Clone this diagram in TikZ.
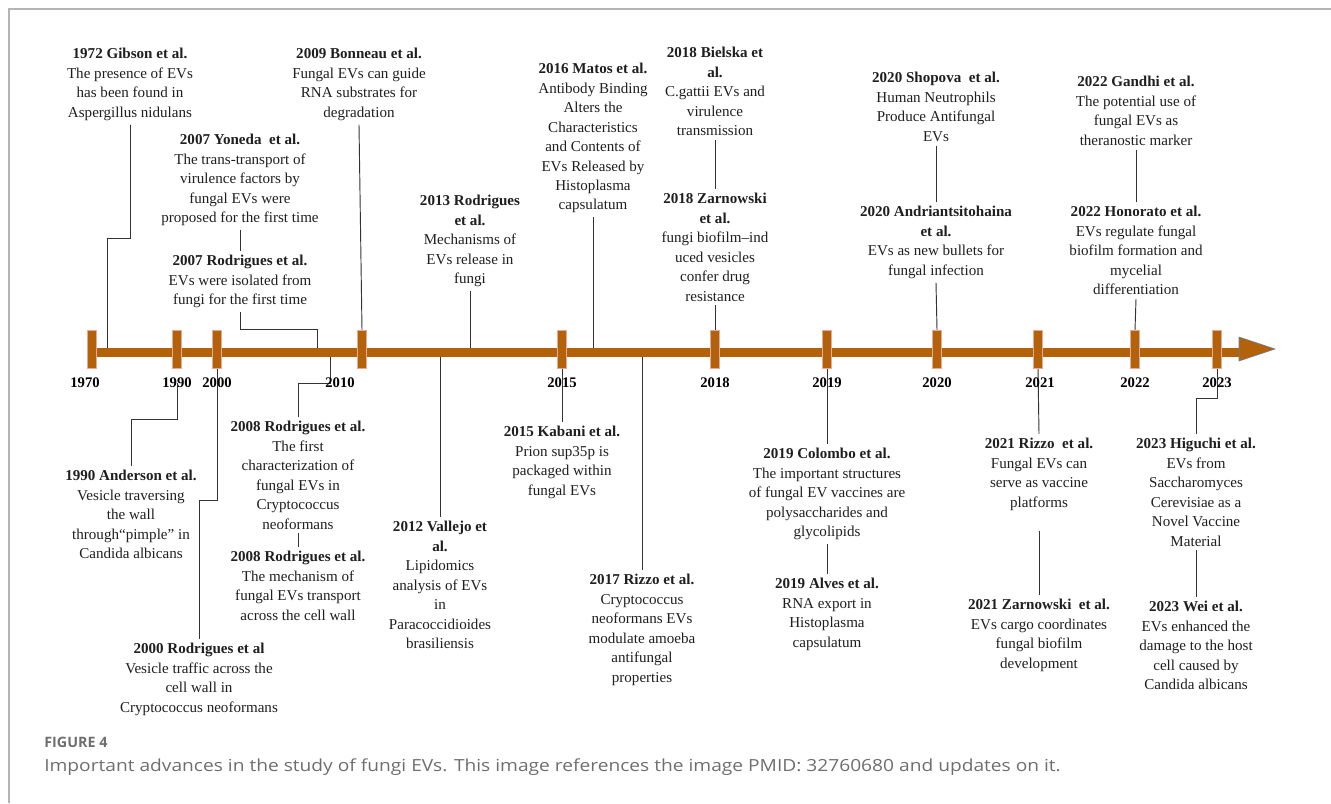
\documentclass[tikz,border=0pt]{standalone}
\usepackage{fontspec}
\setmainfont{Liberation Serif}
\newfontfamily\capfont{Open Sans}
\usetikzlibrary{backgrounds}
\definecolor{BarBrown}{HTML}{B4620A}
\definecolor{BarEdge}{HTML}{E6A99C}
\definecolor{TipEdge}{HTML}{5F7FA8}
\definecolor{LineGray}{HTML}{333333}
\definecolor{FrameGray}{HTML}{B4B4B4}
\definecolor{CapGray}{HTML}{6E6E6E}
\tikzset{
  evtext/.style={anchor=north, align=center, inner sep=3pt, font=\fontsize{11.3}{14.6}\selectfont, text=black!88},
  conn/.style={draw=LineGray, line width=0.7pt},
  tickmark/.style={rectangle, fill=BarBrown, draw=BarEdge, line width=0.3pt, minimum width=6.5pt, minimum height=28.5pt, inner sep=0pt},
  yearlabel/.style={font=\fontsize{11}{13}\selectfont\bfseries, inner sep=1pt},
}

\begin{document}
\begin{tikzpicture}[x=0.75pt, y=-0.75pt]
    \useasboundingbox (0,0) rectangle (1331,803);

    % timeline
    \fill[BarBrown] (88,347.5) rectangle (1241,357);
    \filldraw[fill=BarBrown, draw=TipEdge, line width=0.4pt] (1239,337) -- (1275,349) -- (1239,361) -- cycle;
    \node[tickmark] (t1970) at (92,349) {};
    \node[tickmark] (t1990) at (177,349) {};
    \node[tickmark] (t2000) at (217,349) {};
    \node[tickmark] (t2009) at (362,349) {};
    \node[tickmark] (t2015) at (562,349) {};
    \node[tickmark] (t2018) at (715,349) {};
    \node[tickmark] (t2019) at (827,349) {};
    \node[tickmark] (t2020) at (937,349) {};
    \node[tickmark] (t2021) at (1038,349) {};
    \node[tickmark] (t2022) at (1135,349) {};
    \node[tickmark] (t2023) at (1217,349) {};

    \node[yearlabel] (y1970) at (85,383) {1970};
    \node[yearlabel] (y1990) at (177,383) {1990};
    \node[yearlabel] (y2000) at (217,383) {2000};
    \node[yearlabel] (y2010) at (340,383) {2010};
    \node[yearlabel] (y2015) at (562,383) {2015};
    \node[yearlabel] (y2018) at (715,383) {2018};
    \node[yearlabel] (y2019) at (827,383) {2019};
    \node[yearlabel] (y2020) at (937,383) {2020};
    \node[yearlabel] (y2021) at (1040,383) {2021};
    \node[yearlabel] (y2022) at (1135,383) {2022};
    \node[yearlabel] (y2023) at (1217,383) {2023};

    \coordinate (b1972) at (107,352);
    \coordinate (b2007) at (317,352);
    \coordinate (b2008) at (330,352);
    \coordinate (b2012) at (440,352);
    \coordinate (b2013) at (470,352);
    \coordinate (b2016) at (593,352);
    \coordinate (b2017) at (642,352);

    % above the timeline
    \node[evtext] (gibson) at (130,44) {\textbf{1972 Gibson et al.}\\The presence of EVs\\has been found in\\Aspergillus nidulans};
    \node[evtext] (yoneda) at (240,130) {\textbf{2007 Yoneda\ \ et al.}\\The trans-transport of\\virulence factors by\\fungal EVs were\\proposed for the first time};
    \node[evtext] (rod07) at (240,251) {\textbf{2007 Rodrigues et al.}\\EVs were isolated from\\fungi for the first time};
    \node[evtext] (bonneau) at (359,44) {\textbf{2009 Bonneau et al.}\\Fungal EVs can guide\\RNA substrates for\\degradation};
    \node[evtext] (rod13) at (470,191) {\textbf{2013 Rodrigues}\\\textbf{et al.}\\Mechanisms of\\EVs release in\\fungi};
    \node[evtext] (matos) at (593,59) {\textbf{2016 Matos et al.}\\Antibody Binding\\Alters the\\Characteristics\\and Contents of\\EVs Released by\\Histoplasma\\capsulatum};
    \node[evtext] (bielska) at (715,43) {\textbf{2018 Bielska et}\\\textbf{al.}\\C.gattii EVs and\\virulence\\transmission};
    \node[evtext] (zarn18) at (715,189) {\textbf{2018 Zarnowski}\\\textbf{et al.}\\fungi biofilm–ind\\uced vesicles\\confer drug\\resistance};
    \node[evtext] (shopova) at (936,68) {\textbf{2020 Shopova\ \ et al.}\\Human Neutrophils\\Produce Antifungal\\EVs};
    \node[evtext] (andri) at (936,202) {\textbf{2020 Andriantsitohaina}\\\textbf{et al.}\\EVs as new bullets for\\fungal infection};
    \node[evtext] (gandhi) at (1136,72) {\textbf{2022 Gandhi et al.}\\The potential use of\\fungal EVs as\\theranostic marker};
    \node[evtext] (honorato) at (1136,202) {\textbf{2022 Honorato et al.}\\EVs regulate fungal\\biofilm formation and\\mycelial\\differentiation};

    % below the timeline
    \node[evtext] (anderson) at (131,466) {\textbf{1990 Anderson et al.}\\Vesicle traversing\\the wall\\through“pimple” in\\Candida albicans};
    \node[evtext] (rod00) at (199,639) {\textbf{2000 Rodrigues et al}\\Vesicle traffic across the\\cell wall in\\Cryptococcus neoformans};
    \node[evtext] (rod08a) at (298,417) {\textbf{2008 Rodrigues et al.}\\The first\\characterization of\\fungal EVs in\\Cryptococcus\\neoformans};
    \node[evtext] (rod08b) at (298,547) {\textbf{2008 Rodrigues et al.}\\The mechanism of\\fungal EVs transport\\across the cell wall};
    \node[evtext] (vallejo) at (440,517) {\textbf{2012 Vallejo et}\\\textbf{al.}\\Lipidomics\\analysis of EVs\\in\\Paracoccidioides\\brasiliensis};
    \node[evtext] (kabani) at (562,422) {\textbf{2015 Kabani et al.}\\Prion sup35p is\\packaged within\\fungal EVs};
    \node[evtext] (rizzo17) at (642,570) {\textbf{2017 Rizzo et al.}\\Cryptococcus\\neoformans EVs\\modulate amoeba\\antifungal\\properties};
    \node[evtext] (colombo) at (827,444) {\textbf{2019 Colombo et al.}\\The important structures\\of fungal EV vaccines are\\polysaccharides and\\glycolipids};
    \node[evtext] (alves) at (827,574) {\textbf{2019 Alves et al.}\\RNA export in\\Histoplasma\\capsulatum};
    \node[evtext] (rizzo21) at (1039,434) {\textbf{2021 Rizzo\ \ et al.}\\Fungal EVs can\\serve as vaccine\\platforms};
    \node[evtext] (zarn21) at (1039,595) {\textbf{2021 Zarnowski\ \ et al.}\\EVs cargo coordinates\\fungal biofilm\\development};
    \node[evtext] (higuchi) at (1196,434) {\textbf{2023 Higuchi et al.}\\EVs from\\Saccharomyces\\Cerevisiae as a\\Novel Vaccine\\Material};
    \node[evtext] (wei) at (1196,597) {\textbf{2023 Wei et al.}\\EVs enhanced the\\damage to the host\\cell caused by\\Candida albicans};

    % caption
    \node[anchor=west, inner sep=0pt, font=\capfont\fontsize{10.75}{13}\selectfont\bfseries, text=CapGray] (fig4) at (44,742) {FIGURE 4};
    \node[anchor=west, inner sep=0pt, font=\capfont\fontsize{12.5}{14}\selectfont, text=CapGray] (capline) at (44,767) {\scalebox{1.15}[1]{Important advances in the study of fungi EVs. This image references the image PMID: 32760680 and updates on it.}};

    \begin{pgfonlayer}{background}
      \draw[FrameGray, line width=1.5pt] (9,803) -- (9,9) -- (1331,9);
      \draw[conn] (gibson.south) |- (107,238) -- (b1972);
      \draw[conn] (yoneda.south) -- (rod07.north);
      \draw[conn] (rod07.south) |- (317,329) -- (b2007);
      \draw[conn] (bonneau.south) -- (t2009.north);
      \draw[conn] (rod13.south) -- (b2013);
      \draw[conn] (matos.south) -- (b2016);
      \draw[conn] (bielska.south) -- (zarn18.north);
      \draw[conn] (zarn18.south) -- (t2018.north);
      \draw[conn] (shopova.south) -- (andri.north);
      \draw[conn] (andri.south) -- (t2020.north);
      \draw[conn] (gandhi.south) -- (honorato.north);
      \draw[conn] (honorato.south) -- (t2022.north);
      \draw[conn] (y1990.center) |- (131,419) -- (anderson.north);
      \draw[conn] (t2000.south) |- (199,500) -- (rod00.north);
      \draw[conn] (b2008) |- (298,383) -- (rod08a.north);
      \draw[conn] (rod08a.south) -- (rod08b.north);
      \draw[conn] (b2012) -- (vallejo.north);
      \draw[conn] (t2015.south) -- (kabani.north);
      \draw[conn] (b2017) -- (rizzo17.north);
      \draw[conn] (t2019.south) -- (colombo.north);
      \draw[conn] (colombo.south) -- (alves.north);
      \draw[conn] (t2021.south) -- (rizzo21.north);
      \draw[conn, shorten <=12pt] (rizzo21.south) -- (zarn21.north);
      \draw[conn] (t2023.south) |- (1196,398) -- (higuchi.north);
      \draw[conn] (higuchi.south) -- (wei.north);
    \end{pgfonlayer}
\end{tikzpicture}
\end{document}
